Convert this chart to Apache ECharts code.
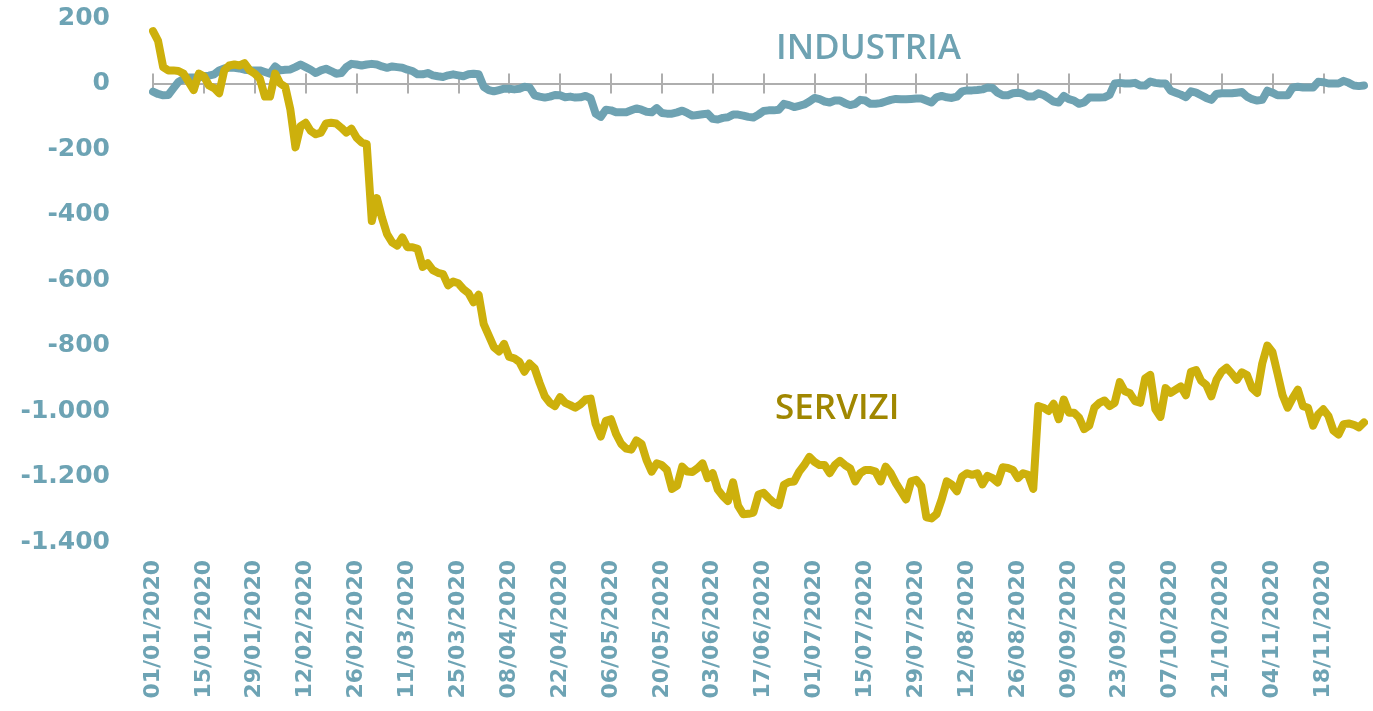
<!DOCTYPE html>
<html>
<head>
<meta charset="utf-8">
<script src="https://cdn.jsdelivr.net/npm/echarts@6/dist/echarts.min.js"></script>
<style>
  html, body { margin: 0; padding: 0; background: #fff; }
  #chart { width: 1373px; height: 711px; }
</style>
</head>
<body>
<div id="chart"></div>
<script>
// giorni lavorativi dal 01/01/2020
var startDate = '2020-01-01';
var nDays = 239;

var servizi = [
  160, 130, 50, 40, 40, 38, 30, 5, -20, 30,
  22, -6, -14, -30, 40, 55, 58, 55, 62, 40,
  30, 15, -40, -40, 30, 0, -10, -80, -195, -130,
  -120, -145, -155, -150, -122, -120, -122, -135, -150, -138,
  -165, -180, -185, -420, -350, -410, -460, -485, -495, -470,
  -500, -500, -505, -560, -549, -570, -578, -582, -616, -605,
  -610, -628, -640, -668, -645, -735, -770, -805, -818, -795,
  -835, -839, -850, -880, -855, -870, -915, -955, -975, -985,
  -958, -975, -982, -990, -980, -965, -962, -1040, -1078, -1030,
  -1025, -1070, -1100, -1115, -1118, -1090, -1100, -1150, -1185, -1160,
  -1165, -1180, -1238, -1228, -1170, -1185, -1186, -1175, -1160, -1205,
  -1190, -1240, -1260, -1275, -1218, -1290, -1315, -1314, -1310, -1255,
  -1250, -1266, -1280, -1287, -1225, -1217, -1215, -1185, -1165, -1140,
  -1155, -1165, -1165, -1190, -1165, -1152, -1165, -1175, -1215, -1190,
  -1180, -1180, -1185, -1215, -1170, -1190, -1220, -1245, -1270, -1215,
  -1210, -1230, -1325, -1328, -1315, -1270, -1215, -1225, -1245, -1200,
  -1190, -1195, -1190, -1224, -1198, -1205, -1218, -1172, -1174, -1180,
  -1205, -1190, -1195, -1238, -985, -990, -1000, -978, -1025, -965,
  -1005, -1005, -1020, -1055, -1045, -990, -975, -968, -985, -975,
  -912, -940, -946, -970, -975, -900, -890, -995, -1018, -930,
  -945, -935, -925, -952, -880, -875, -908, -920, -955, -905,
  -880, -868, -885, -905, -882, -890, -930, -945, -855, -800,
  -820, -885, -952, -990, -960, -935, -985, -990, -1045, -1010,
  -995, -1015, -1060, -1072, -1040, -1038, -1042, -1050, -1035
];

var industria = [
  -25, -32, -36, -35, -15, 5, 14, 18, 18, 18,
  22, 24, 28, 40, 46, 49, 48, 46, 42, 40,
  40, 40, 35, 30, 52, 40, 42, 43, 50, 58,
  50, 42, 32, 40, 45, 38, 30, 32, 50, 60,
  58, 55, 58, 60, 58, 52, 48, 52, 50, 48,
  42, 38, 28, 28, 32, 25, 22, 20, 25, 28,
  25, 22, 28, 30, 28, -10, -20, -24, -20, -16,
  -16, -18, -16, -10, -12, -36, -40, -43, -40, -35,
  -36, -42, -40, -43, -42, -38, -45, -92, -102, -80,
  -82, -88, -88, -88, -82, -76, -80, -86, -88, -75,
  -90, -92, -92, -88, -83, -90, -98, -96, -94, -92,
  -108, -110, -105, -103, -95, -95, -98, -102, -104, -95,
  -84, -82, -82, -80, -62, -66, -72, -68, -64, -55,
  -44, -48, -55, -58, -52, -52, -60, -66, -62, -50,
  -52, -62, -62, -60, -55, -50, -47, -48, -48, -47,
  -46, -46, -52, -58, -42, -38, -42, -44, -40, -24,
  -21, -21, -20, -18, -12, -14, -28, -36, -36, -30,
  -28, -32, -40, -40, -30, -35, -45, -55, -58, -38,
  -48, -52, -62, -58, -43, -43, -43, -42, -35, 0,
  2, 0, 0, 2, -6, -6, 6, 2, 0, 0,
  -22, -28, -34, -42, -24, -28, -36, -44, -50, -32,
  -30, -30, -30, -28, -26, -40, -48, -52, -50, -22,
  -28, -36, -36, -36, -12, -10, -12, -12, -12, 5,
  4, 0, 0, 0, 8, 2, -6, -8, -6
];

var yTicks = { min: -1400, max: 200, interval: 200 };

function pad(n) { return n < 10 ? '0' + n : '' + n; }
var dates = [];
var d = new Date(startDate + 'T12:00:00');
while (dates.length < nDays) {
  var wd = d.getDay();
  if (wd !== 0 && wd !== 6) {
    dates.push(pad(d.getDate()) + '/' + pad(d.getMonth() + 1) + '/' + d.getFullYear());
  }
  d.setDate(d.getDate() + 1);
}

var H = 711;
var gridTop = 18, gridBottom = 169;
var plotH = H - gridTop - gridBottom;
// distanza della linea dello zero dal fondo del grafico
var zeroOffset = (0 - yTicks.min) / (yTicks.max - yTicks.min) * plotH;

var labelColor = '#6da3b4';
var axisGrey = '#aeaeae';
var chart = echarts.init(document.getElementById('chart'));
var option = {
  animation: false,
  grid: { left: 153, right: 9, top: gridTop, bottom: gridBottom },
  xAxis: [
    {
      type: 'category',
      data: dates,
      boundaryGap: false,
      axisLine: { show: true, onZero: true, lineStyle: { color: axisGrey, width: 2 } },
      axisTick: { show: true, interval: 9, length: 10, lineStyle: { color: axisGrey, width: 2 } },
      axisLabel: { show: false }
    },
    {
      type: 'category',
      data: dates,
      boundaryGap: false,
      position: 'bottom',
      offset: -zeroOffset,
      axisLine: { show: false, onZero: false },
      axisTick: { show: true, inside: true, interval: 9, length: 10, lineStyle: { color: axisGrey, width: 2 } },
      axisLabel: { show: false }
    },
    {
      type: 'category',
      data: dates,
      boundaryGap: false,
      position: 'bottom',
      axisLine: { onZero: false, show: false },
      axisTick: { show: false },
      axisLabel: {
        interval: 9,
        rotate: 90,
        margin: 18,
        color: labelColor,
        fontFamily: 'DejaVu Sans',
        fontWeight: 'bold',
        fontSize: 22
      }
    }
  ],
  yAxis: {
    type: 'value',
    min: yTicks.min,
    max: yTicks.max,
    interval: yTicks.interval,
    axisLine: { show: false },
    axisTick: { show: false },
    splitLine: { show: false },
    axisLabel: {
      margin: 43,
      color: labelColor,
      fontFamily: 'DejaVu Sans',
      fontWeight: 'bold',
      fontSize: 25,
      formatter: function (v) {
        return String(v).replace(/\B(?=(\d{3})+(?!\d))/g, '.');
      }
    }
  },
  series: [
    {
      name: 'INDUSTRIA',
      type: 'line',
      xAxisIndex: 0,
      data: industria,
      symbol: 'none',
      z: 3,
      lineStyle: { color: '#6ea2b2', width: 8, cap: 'round', join: 'round' }
    },
    {
      name: 'SERVIZI',
      type: 'line',
      xAxisIndex: 0,
      data: servizi,
      symbol: 'none',
      z: 4,
      lineStyle: { color: '#cdb00c', width: 8, cap: 'round', join: 'round' }
    }
  ],
  graphic: [
    {
      type: 'text', left: 776, top: 32,
      style: { text: 'INDUSTRIA', fill: '#6ea2b2', font: '600 35px "Open Sans"' }
    },
    {
      type: 'text', left: 775, top: 392,
      style: { text: 'SERVIZI', fill: '#a08700', font: '600 35px "Open Sans"' }
    }
  ]
};
chart.setOption(option);
</script>
</body>
</html>
